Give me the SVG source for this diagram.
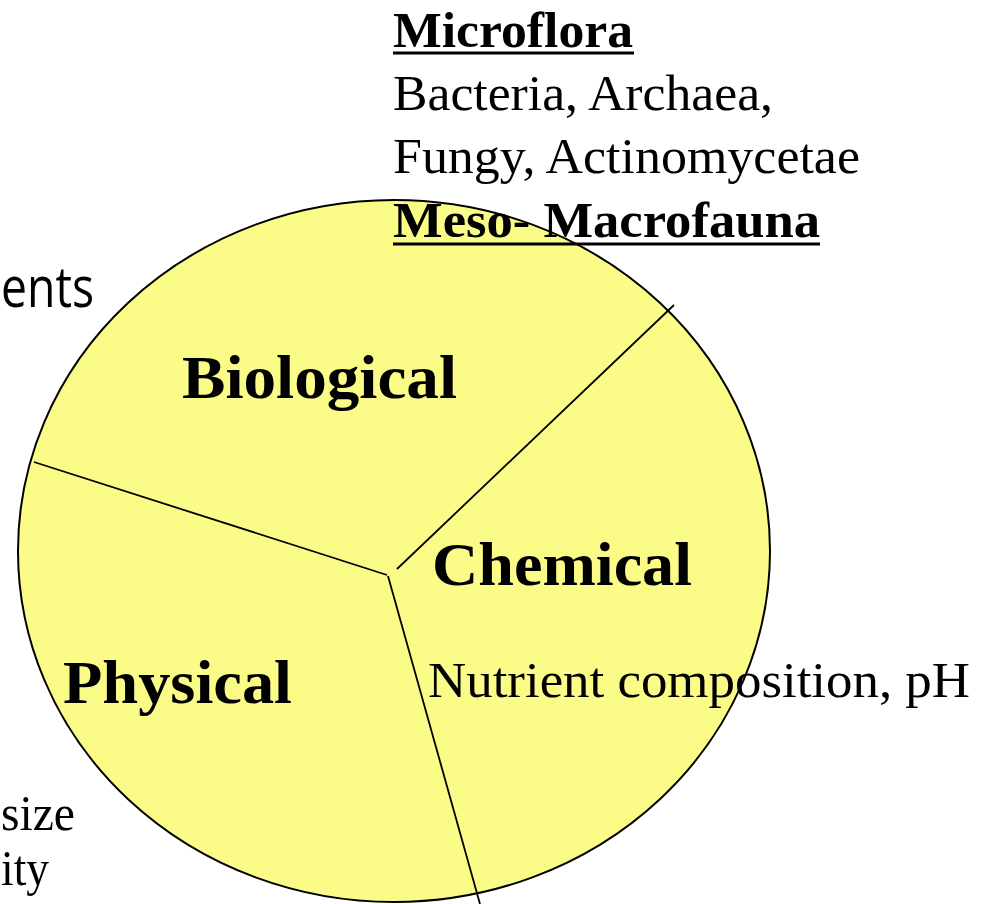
<svg xmlns="http://www.w3.org/2000/svg" width="991" height="904" viewBox="0 0 991 904">
<style>
.serif{font-family:"Liberation Serif","Times New Roman",serif;fill:#000}
.b{font-weight:bold}
.big{font-size:62px;font-weight:bold}
.txt{font-size:51px}
.sans{font-family:"Open Sans","Noto Sans","Liberation Sans",sans-serif;font-size:56px;fill:#000}
.ln{stroke:#000;stroke-width:1.8;fill:none}
</style>
<rect width="991" height="904" fill="#fff"/>
<g id="pie">
<ellipse cx="394" cy="551" rx="376" ry="351" fill="#FBFB88" stroke="#000" stroke-width="2"/>
</g>
<g id="dividers">
<line class="ln" x1="34" y1="462" x2="387" y2="575"/>
<line class="ln" x1="397" y1="569" x2="674" y2="305"/>
<line class="ln" x1="388" y1="576" x2="480" y2="904"/>
</g>
<g id="labels">
<text class="serif big" x="182" y="398" textLength="275" lengthAdjust="spacingAndGlyphs">Biological</text>
<text class="serif big" x="432" y="585" textLength="260" lengthAdjust="spacingAndGlyphs">Chemical</text>
<text class="serif big" x="63" y="703" textLength="229" lengthAdjust="spacingAndGlyphs">Physical</text>
</g>
<g id="biological-text">
<text class="serif txt b" x="393" y="47" textLength="240" lengthAdjust="spacingAndGlyphs">Microflora</text>
<line x1="393" y1="53" x2="634" y2="53" stroke="#000" stroke-width="3"/>
<text class="serif txt" x="393" y="110" textLength="380" lengthAdjust="spacingAndGlyphs">Bacteria, Archaea,</text>
<text class="serif txt" x="393" y="173" textLength="467" lengthAdjust="spacingAndGlyphs">Fungy, Actinomycetae</text>
<text class="serif txt b" x="393" y="237" textLength="427" lengthAdjust="spacingAndGlyphs">Meso- Macrofauna</text>
<line x1="393" y1="244" x2="820" y2="244" stroke="#000" stroke-width="3"/>
</g>
<g id="chemical-text">
<text class="serif txt" x="428" y="697" textLength="542" lengthAdjust="spacingAndGlyphs">Nutrient composition, pH</text>
</g>
<g id="physical-text">
<text class="serif txt" x="1" y="830" textLength="74" lengthAdjust="spacingAndGlyphs">size</text>
<text class="serif txt" x="1" y="885" textLength="48" lengthAdjust="spacingAndGlyphs">ity</text>
</g>
<g id="title-fragment">
<text class="sans" x="1" y="307" textLength="93" lengthAdjust="spacingAndGlyphs">ents</text>
</g>
</svg>
